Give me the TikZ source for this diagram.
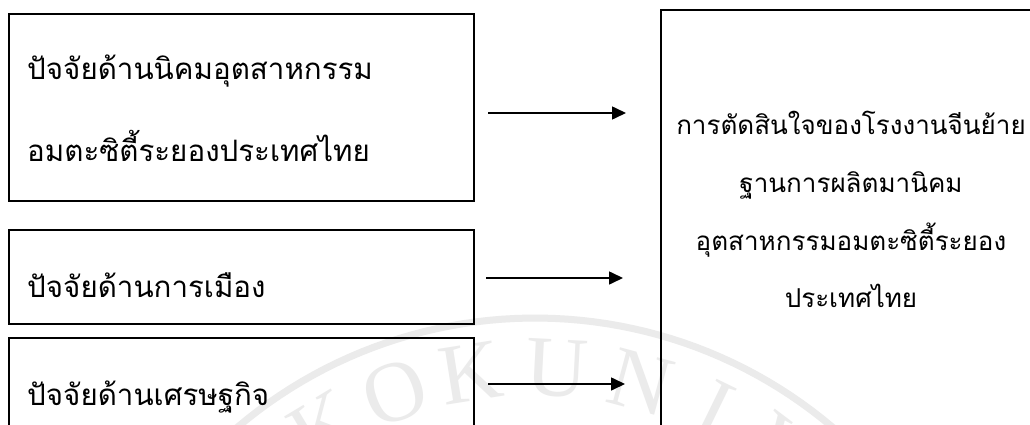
\documentclass[tikz,border=0pt]{standalone}
\usepackage{fontspec}
\newfontfamily\thaifont[Script=Thai]{Loma}
\newfontfamily\wmfont{Liberation Serif}
\usetikzlibrary{arrows.meta}
\begin{document}
\begin{tikzpicture}[x=1pt,y=-1pt,
  box/.style={draw=black,line width=1.6pt,inner sep=0pt,anchor=north west},
  txt/.style={anchor=base west,inner sep=0pt,font=\thaifont\fontsize{29.5}{29.5}\selectfont},
  ctxt/.style={anchor=base,inner sep=0pt,font=\thaifont\fontsize{26}{26}\selectfont},
  arr/.style={line width=1.6pt,-{Triangle[length=14pt,width=13pt]}},
  wm/.style={text=black!8,font=\wmfont\fontsize{86}{86}\selectfont,inner sep=0pt}]
\useasboundingbox (0,0) rectangle (1030,425);
\clip (0,0) rectangle (1030,425);
\fill[white] (0,0) rectangle (1030,425);
% watermark
\draw[black!8,line width=7pt] plot[domain=25:155,samples=80] ({535+460*cos(\x)},{778-460*sin(\x)});
\foreach \l/\a in {G/132,K/121,O/110,K/99,U/87,N/75,I/64,V/53}{
  \node[wm,rotate=\a-90] at ({535+410*cos(\a)},{778-410*sin(\a)}) {\l};
}
% boxes
\node[box,minimum width=465pt,minimum height=187pt] (b1) at (8,13) {};
\node[box,minimum width=465pt,minimum height=94pt] (b2) at (8,229) {};
\node[box,minimum width=465pt,minimum height=120pt] (b3) at (8,337) {};
\node[box,minimum width=400pt,minimum height=440pt] (r) at (660,9) {};
% texts
\node[txt] (t1a) at (27,80) {ปัจจัยด้านนิคมอุตสาหกรรม};
\node[txt] (t1b) at (27,161) {อมตะซิตี้ระยองประเทศไทย};
\node[txt] (t2) at (27,297) {ปัจจัยด้านการเมือง};
\node[txt] (t3) at (27,405) {ปัจจัยด้านเศรษฐกิจ};
\node[ctxt] (r1) at (851,135) {การตัดสินใจของโรงงานจีนย้าย};
\node[ctxt] (r2) at (851,192) {ฐานการผลิตมานิคม};
\node[ctxt] (r3) at (851,250) {อุตสาหกรรมอมตะซิตี้ระยอง};
\node[ctxt] (r4) at (851,307) {ประเทศไทย};
% arrows
\coordinate (a1s) at (488,113); \coordinate (a1e) at (626,113);
\coordinate (a2s) at (486,278); \coordinate (a2e) at (623,278);
\coordinate (a3s) at (488,384); \coordinate (a3e) at (625,384);
\draw[arr] (a1s) -- (a1e);
\draw[arr] (a2s) -- (a2e);
\draw[arr] (a3s) -- (a3e);
\end{tikzpicture}
\end{document}
